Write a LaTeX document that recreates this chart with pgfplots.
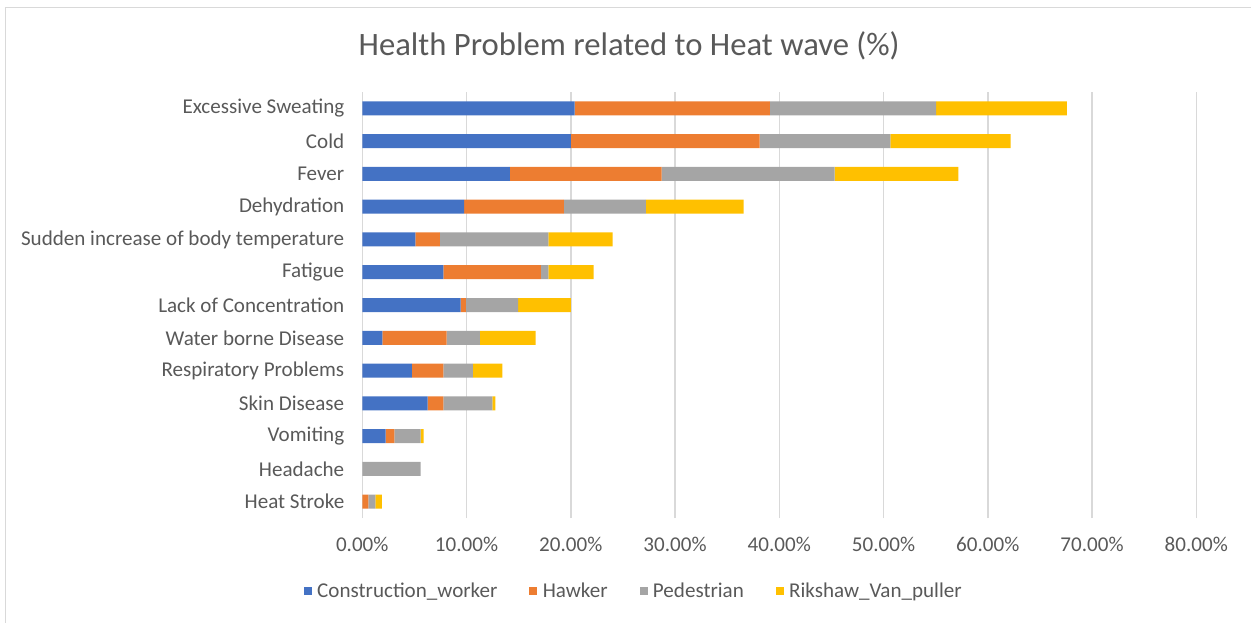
\documentclass[border=0pt]{standalone}
\usepackage{pgfplots}
\pgfplotsset{compat=1.18}
\usepackage{pgfplotstable}
\usepackage{fontspec}
\setmainfont{Carlito}
\definecolor{cw}{HTML}{4472C4}
\definecolor{hw}{HTML}{ED7D31}
\definecolor{pd}{HTML}{A5A5A5}
\definecolor{rk}{HTML}{FFC000}
\definecolor{txt}{HTML}{595959}
\definecolor{gridc}{HTML}{D9D9D9}
\pgfplotstableread{
y CW H P R
0 0 0.58 0.67 0.64
1 0 0 5.60 0
2 2.24 0.83 2.53 0.29
3 6.27 1.50 4.70 0.29
4 4.77 3.00 2.85 2.81
5 1.92 6.18 3.19 5.34
6 9.44 0.51 5.01 5.06
7 7.77 9.37 0.70 4.36
8 5.09 2.36 10.39 6.18
9 9.78 9.57 7.86 9.37
10 14.17 14.55 16.59 11.86
11 20.02 18.10 12.53 11.55
12 20.37 18.74 15.93 12.54
}\datatable
\begin{document}
\begin{tikzpicture}
\useasboundingbox (0,0) rectangle (938.25pt,466.5pt);
\draw[gridc, line width=1pt] (4pt,-5pt) -- (4pt,460.8pt) -- (945pt,460.8pt);
\begin{axis}[
  at={(271.7pt,78pt)}, anchor=south west,
  scale only axis, width=625.5pt, height=319.5pt,
  xbar stacked, bar width=10.5pt,
  xmin=0, xmax=80, ymin=-0.5, ymax=12.5,
  axis line style={draw=none},
  major tick length=0pt,
  xmajorgrids, grid style={gridc, line width=1.1pt},
  xtick={0,10,...,80},
  xticklabels={0.00\%,10.00\%,20.00\%,30.00\%,40.00\%,50.00\%,60.00\%,70.00\%,80.00\%},
  ytick={0,...,12},
  yticklabels={Heat Stroke,Headache,Vomiting,Skin Disease,Respiratory Problems,Water borne Disease,Lack of Concentration,Fatigue,Sudden increase of body temperature,Dehydration,Fever,Cold,Excessive Sweating},
  tick label style={font=\fontsize{15.8}{17}\selectfont, text=txt},
  xticklabel style={yshift=-11pt},
  yticklabel style={xshift=-10pt},
  title={Health Problem related to Heat wave (\%)},
  title style={at={(axis description cs:0.320,1.090)}, anchor=center, font=\fontsize{24.5}{28}\selectfont, text=txt},
  legend columns=4,
  legend style={at={(axis description cs:0.326,-0.172)}, anchor=center, draw=none, fill=none,
    font=\fontsize{15.8}{17}\selectfont, text=txt,
    /tikz/every odd column/.append style={column sep=2pt},
    /tikz/every even column/.append style={column sep=22pt}},
  legend image code/.code={\fill (0pt,-3pt) rectangle (6pt,3pt);},
]
\addplot[fill=cw, draw=none] table[x=CW, y=y] {\datatable};
\addplot[fill=hw, draw=none] table[x=H, y=y] {\datatable};
\addplot[fill=pd, draw=none] table[x=P, y=y] {\datatable};
\addplot[fill=rk, draw=none] table[x=R, y=y] {\datatable};
\legend{Construction\_worker, Hawker, Pedestrian, Rikshaw\_Van\_puller}
\end{axis}
\end{tikzpicture}
\end{document}
